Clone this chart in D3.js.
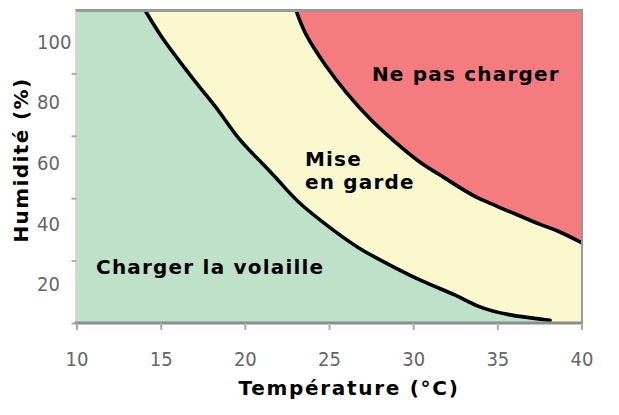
<!DOCTYPE html>
<html>
<head>
<meta charset="utf-8">
<script src="https://cdn.jsdelivr.net/npm/d3@7"></script>
<style>
  html, body { margin: 0; padding: 0; background: #fff; }
  svg { display: block; }
</style>
</head>
<body>
<svg id="chart" width="619" height="415"></svg>
<script>
// ---- data ----
const xTicks = [10, 15, 20, 25, 30, 35, 40];
const yLabels = [20, 40, 60, 80, 100];
const yTicks = [7, 27.6, 48.2, 68.8, 89.4];
// boundary between "Charger la volaille" and "Mise en garde" [temperature, humidity]
const safeLimit = [
  [10, 130], [13.35, 117], [14.1, 110], [14.96, 102], [16.15, 93.2], [17.34, 84.6],
  [18.53, 76.7], [19.54, 68.1], [20.72, 61.5], [22.09, 53.6], [23.1, 46.9],
  [25.06, 38.4], [26.67, 31.8], [28.62, 26.1], [30.59, 20.5], [32.61, 16.2],
  [33.79, 12.3], [35.57, 9.6], [38.13, 7.9]
];
// boundary between "Mise en garde" and "Ne pas charger"
const dangerLimit = [
  [22.6, 117], [23.05, 110], [23.57, 102.1], [24.76, 92.2], [25.95, 83.3],
  [27.56, 73.4], [28.92, 66.8], [30.29, 60.2], [31.89, 54.9], [32.78, 51.6],
  [33.79, 48.3], [34.56, 46.6], [35.75, 43.6], [36.53, 42.0], [37.54, 39.4],
  [38.54, 37.7], [40, 33.5], [41, 30.8]
];
const zoneNames = ["Charger la volaille", "Mise", "en garde", "Ne pas charger"];
const xTitle = "Température (°C)";
const yTitle = "Humidité (%)";

// ---- scales ----
const x = d3.scaleLinear().domain([10, 40]).range([76.5, 581.5]);
const y = d3.scaleLinear().domain([7, 110]).range([323, 11]);

const svg = d3.select("#chart");
const colors = { green: "#bfe1c9", yellow: "#fbf8d0", red: "#f47c80" };

svg.append("defs").append("clipPath").attr("id", "plotClip")
  .append("rect")
  .attr("x", x(10)).attr("y", y(110))
  .attr("width", x(40) - x(10)).attr("height", y(7) - y(110));

const plot = svg.append("g").attr("clip-path", "url(#plotClip)");

plot.append("rect")
  .attr("x", x(10)).attr("y", y(110))
  .attr("width", x(40) - x(10)).attr("height", y(7) - y(110))
  .attr("fill", colors.yellow);

const curve = d3.curveBasis;

plot.append("path")
  .datum(safeLimit)
  .attr("fill", colors.green)
  .attr("d", d3.area().curve(curve)
    .x(d => x(d[0])).y0(y(0)).y1(d => y(d[1])));

plot.append("path")
  .datum(dangerLimit)
  .attr("fill", colors.red)
  .attr("d", d3.area().curve(curve)
    .x(d => x(d[0])).y0(y(140)).y1(d => y(d[1])));

const line = d3.line().curve(curve).x(d => x(d[0])).y(d => y(d[1]));
[safeLimit, dangerLimit].forEach(pts => {
  plot.append("path").datum(pts)
    .attr("fill", "none").attr("stroke", "#000")
    .attr("stroke-width", 3.6).attr("stroke-linecap", "round")
    .attr("stroke-linejoin", "round")
    .attr("d", line);
});

// ---- frame ----
svg.append("line")
  .attr("x1", x(10) - 1).attr("x2", x(40) + 1.5)
  .attr("y1", y(110) - 0.5).attr("y2", y(110) - 0.5)
  .attr("stroke", "#999").attr("stroke-width", 3);
svg.append("line")
  .attr("x1", x(40) + 0.5).attr("x2", x(40) + 0.5)
  .attr("y1", y(110) - 1).attr("y2", y(7) + 7)
  .attr("stroke", "#999").attr("stroke-width", 2);
svg.append("line")
  .attr("x1", x(10) - 0.5).attr("x2", x(10) - 0.5)
  .attr("y1", y(110)).attr("y2", y(7))
  .attr("stroke", "#b5b5b5").attr("stroke-width", 1);

// x axis
const xAxis = svg.append("g").attr("transform", `translate(0,${y(7)})`)
  .call(d3.axisBottom(x).tickValues(xTicks).tickSize(7).tickPadding(22));
xAxis.select(".domain").attr("stroke", "#8c8c8c").attr("stroke-width", 3)
  .attr("d", `M${x(10) - 2},0H${x(40) + 1.5}`);
xAxis.selectAll(".tick line").attr("stroke", "#aaa").attr("stroke-width", 2);
xAxis.selectAll(".tick text")
  .attr("fill", "#666")
  .style("font-family", "'DejaVu Sans Condensed', 'DejaVu Sans', sans-serif")
  .style("font-stretch", "condensed")
  .style("font-size", "20px");

// y axis ticks
const yAxisG = svg.append("g").attr("transform", `translate(${x(10)},0)`)
  .call(d3.axisLeft(y).tickValues(yTicks).tickSize(5).tickFormat(""));
yAxisG.select(".domain").remove();
yAxisG.selectAll(".tick line").attr("stroke", "#aaa").attr("stroke-width", 2);

// y labels (left aligned)
svg.append("g").selectAll("text").data(yLabels).join("text")
  .attr("x", 37).attr("y", d => y(d) + 7.5)
  .attr("fill", "#666")
  .style("font-family", "'DejaVu Sans Condensed', 'DejaVu Sans', sans-serif")
  .style("font-stretch", "condensed")
  .style("font-size", "20px")
  .text(d => d);

// ---- labels ----
const bold = sel => sel
  .style("font-family", "'DejaVu Sans', Verdana, sans-serif")
  .style("font-weight", "bold")
  .style("font-size", "20px")
  .attr("fill", "#000");

svg.append("text").call(bold).style("letter-spacing", "1.7px")
  .attr("x", 349).attr("y", 395)
  .attr("text-anchor", "middle").text(xTitle);

svg.append("text").call(bold).style("letter-spacing", "1.4px")
  .attr("transform", `translate(28,${160}) rotate(-90)`)
  .attr("text-anchor", "middle").text(yTitle);

const zoneLabel = (txt, tx, ty) => svg.append("text").call(bold)
  .style("letter-spacing", "1.2px")
  .attr("x", x(tx)).attr("y", y(ty)).text(txt);

zoneLabel(zoneNames[0], 11.16, 23.2);
zoneLabel(zoneNames[1], 23.57, 58.8);
zoneLabel(zoneNames[2], 23.57, 51.2);
zoneLabel(zoneNames[3], 27.55, 86.9);
</script>
</body>
</html>
